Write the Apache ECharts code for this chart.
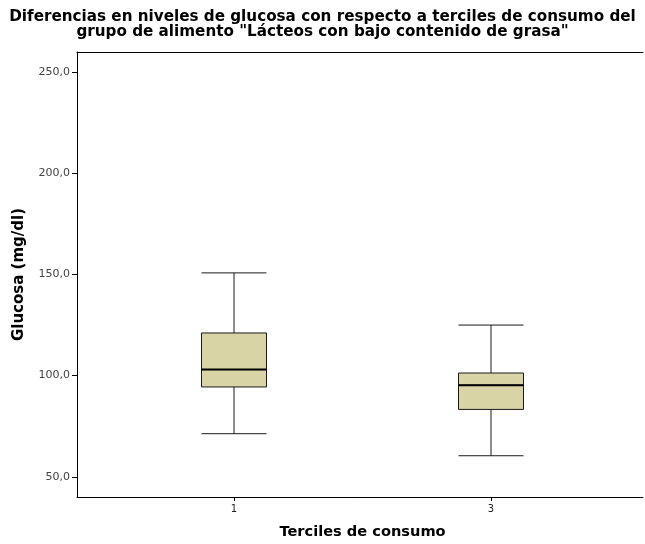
<!DOCTYPE html>
<html>
<head>
<meta charset="utf-8">
<script src="https://cdn.jsdelivr.net/npm/echarts@6/dist/echarts.min.js"></script>
<style>
  html, body { margin: 0; padding: 0; background: #fff; overflow: hidden; }
  #chart { width: 645px; height: 544px; }
</style>
</head>
<body>
<div id="chart"></div>
<script>
// Glucose distribution by consumption tercile (low-fat dairy group)
const categories = ['1', '3'];
// [lower whisker, Q1, median, Q3, upper whisker]
const boxValues = [
  [71.3, 94.4, 103.0, 121.1, 150.8],
  [60.4, 83.3, 95.3, 101.3, 125.0]
];
const yTicks = [50, 100, 150, 200, 250];
const yMin = 40;
const yMax = 260;

const medians = boxValues.map(b => [b[2], b[2], b[2], b[2], b[2]]);

const chart = echarts.init(document.getElementById('chart'), null, { renderer: 'canvas' });

const fontFamily = 'DejaVu Sans';

chart.setOption({
  animation: false,
  backgroundColor: '#ffffff',
  title: {
    text: 'Diferencias en niveles de glucosa con respecto a terciles de consumo del\ngrupo de alimento "Lácteos con bajo contenido de grasa"',
    left: 'center',
    top: 5,
    textStyle: {
      fontFamily: fontFamily,
      fontWeight: 'bold',
      fontSize: 15.2,
      lineHeight: 15,
      color: '#000'
    }
  },
  grid: [
    // frame grid: axis lines and y labels, open on the right
    { left: 77, top: 52, width: 566, height: 445, outerBoundsMode: 'none', containLabel: false },
    // plotting grid for the boxes
    { left: 105.5, top: 52, width: 514, height: 445, outerBoundsMode: 'none', containLabel: false }
  ],
  xAxis: [
    {
      gridIndex: 0,
      type: 'value',
      position: 'bottom',
      min: 0, max: 1,
      axisLine: { show: true, onZero: false, lineStyle: { color: '#000', width: 1 } },
      axisTick: { show: false },
      axisLabel: { show: false },
      splitLine: { show: false }
    },
    {
      // top edge of the plot frame
      gridIndex: 0,
      type: 'value',
      position: 'top',
      min: 0, max: 1,
      axisLine: { show: true, onZero: false, lineStyle: { color: '#000', width: 1 } },
      axisTick: { show: false },
      axisLabel: { show: false },
      splitLine: { show: false }
    },
    {
      gridIndex: 1,
      type: 'category',
      data: categories,
      boundaryGap: true,
      axisLine: { show: false },
      axisTick: { show: true, alignWithLabel: true, length: 4, lineStyle: { color: '#000' } },
      axisLabel: { fontFamily: fontFamily, fontSize: 10, color: '#222', margin: 7 },
      splitLine: { show: false },
      name: 'Terciles de consumo',
      nameLocation: 'middle',
      nameGap: 28,
      nameTextStyle: { fontFamily: fontFamily, fontWeight: 'bold', fontSize: 14.6, color: '#000' }
    },
    {
      gridIndex: 1,
      type: 'category',
      data: categories,
      show: false
    }
  ],
  yAxis: [
    {
      gridIndex: 0,
      type: 'value',
      min: yMin, max: yMax,
      axisLine: { show: true, onZero: false, lineStyle: { color: '#000', width: 1 } },
      axisTick: { show: true, length: 5, customValues: yTicks, lineStyle: { color: '#000' } },
      axisLabel: {
        customValues: yTicks,
        fontFamily: fontFamily, fontSize: 11, color: '#444', margin: 7,
        formatter: v => v.toFixed(1).replace('.', ',')
      },
      splitLine: { show: false },
      name: 'Glucosa (mg/dl)',
      nameLocation: 'middle',
      nameGap: 50,
      nameTextStyle: { fontFamily: fontFamily, fontWeight: 'bold', fontSize: 15, color: '#000' }
    },
    {
      gridIndex: 1,
      type: 'value',
      min: yMin, max: yMax,
      show: false
    }
  ],
  series: [
    {
      type: 'boxplot',
      xAxisIndex: 2,
      yAxisIndex: 1,
      data: boxValues,
      boxWidth: [65, 65],
      itemStyle: { color: '#d9d4a6', borderColor: '#1a1a1a', borderWidth: 1 },
      emphasis: { disabled: true }
    },
    {
      // thick median line drawn over each box
      type: 'boxplot',
      xAxisIndex: 3,
      yAxisIndex: 1,
      data: medians,
      boxWidth: [65, 65],
      itemStyle: { color: 'transparent', borderColor: '#000', borderWidth: 2 },
      emphasis: { disabled: true },
      z: 5
    }
  ]
});
</script>
</body>
</html>
